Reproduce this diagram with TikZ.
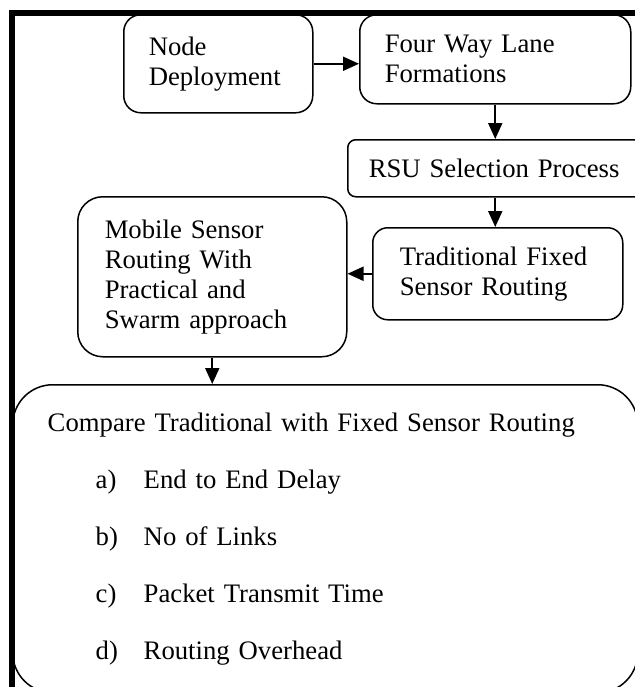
\documentclass[tikz,border=0pt]{standalone}
\usepackage{fontspec}
\setmainfont{Liberation Serif}
\usetikzlibrary{arrows.meta}

\tikzset{
  blk/.style={draw, line width=0.75pt, rounded corners=#1, inner xsep=12.5pt,
    inner ysep=2pt, align=left, anchor=north west,
    font=\fontsize{13.35}{15}\selectfont},
  blk/.default=8.5pt,
  flow/.style={-{Triangle[length=8pt,width=7pt]}, line width=1pt},
  frame/.style={line width=3pt},
}

\begin{document}
\begin{tikzpicture}[x=0.5pt, y=-0.5pt]
  \clip (0,0) rectangle (635,687);
  % outer frame (only top and left are visible)
  \draw[frame] (12,700) -- (12,13) -- (650,13);

  \node[blk, text width=69.5pt, minimum height=49pt] (dep) at (123,14)
    {Node\\Deployment};
  \node[blk, text width=110.5pt, minimum height=44.5pt] (lane) at (359,14)
    {Four Way Lane\\Formations};
  \node[blk=4pt, inner xsep=10.5pt, text width=130.5pt, minimum height=28.5pt] (rsu) at (347,139)
    {RSU Selection Process};
  \node[blk=7.5pt, inner xsep=13.5pt, text width=98pt, minimum height=46pt] (trad) at (372,227)
    {Traditional Fixed\\Sensor Routing};
  \node[blk=12.5pt, inner xsep=13.5pt, text width=107.5pt, minimum height=80pt] (mob) at (77,196)
    {Mobile Sensor\\Routing With\\Practical and\\Swarm approach};
  \node[blk=20pt, inner xsep=17.5pt, text width=277.5pt, minimum height=154pt] (cmp) at (12,384)
    {Compare Traditional with Fixed Sensor Routing\\[13.5pt]
     \hspace*{24pt}\makebox[24pt][l]{a)}End to End Delay\\[13.5pt]
     \hspace*{24pt}\makebox[24pt][l]{b)}No of Links\\[13.5pt]
     \hspace*{24pt}\makebox[24pt][l]{c)}Packet Transmit Time\\[13.5pt]
     \hspace*{24pt}\makebox[24pt][l]{d)}Routing Overhead};

  % flow
  \draw[flow] (dep.east) -- (dep.east -| lane.west);
  \draw[flow] (lane.south) -- (lane.south |- rsu.north);
  \draw[flow] (lane.south |- rsu.south) -- (lane.south |- trad.north);
  \draw[flow] (trad.west) -- (trad.west -| mob.east);
  \draw[flow] (mob.south) -- (mob.south |- cmp.north);
\end{tikzpicture}
\end{document}
